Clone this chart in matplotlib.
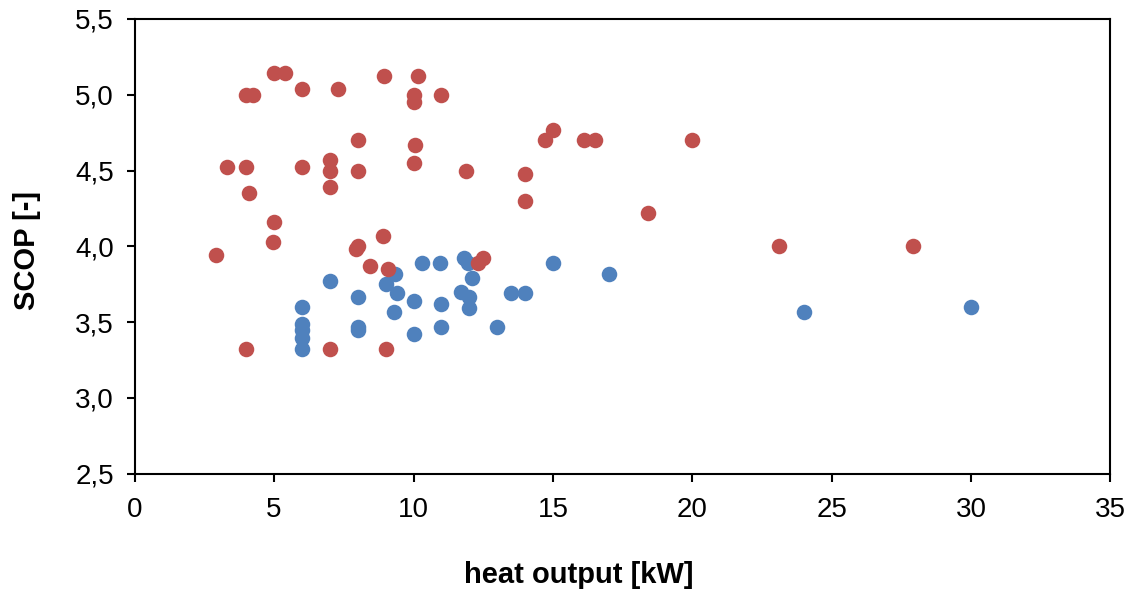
import matplotlib
matplotlib.use('Agg')
import matplotlib.pyplot as plt
from matplotlib.ticker import FuncFormatter, MultipleLocator

plt.rcParams['font.family'] = ['Liberation Sans', 'DejaVu Sans']

# red series (upper group)
red_x = [2.9, 3.3, 4.0, 4.25, 4.0, 4.1, 4.0, 5.0, 5.4, 5.0, 4.95, 6.0, 6.0,
         7.3, 7.0, 7.0, 7.0, 7.0, 8.0, 8.0, 8.0, 7.95, 8.45, 8.9, 8.95, 9.1,
         9.0, 10.0, 10.0, 10.15, 10.05, 10.0, 11.0, 11.9, 12.3, 12.5, 14.0,
         14.0, 14.7, 15.0, 16.1, 16.5, 20.0, 18.4, 23.1, 27.9]
red_y = [3.94, 4.52, 5.0, 5.0, 4.52, 4.35, 3.32, 5.14, 5.14, 4.16, 4.03, 5.04,
         4.52, 5.04, 4.57, 4.5, 4.39, 3.32, 4.7, 4.5, 4.0, 3.98, 3.87, 4.07,
         5.12, 3.85, 3.32, 5.0, 4.95, 5.12, 4.67, 4.55, 5.0, 4.5, 3.89, 3.92,
         4.48, 4.3, 4.7, 4.77, 4.7, 4.7, 4.7, 4.22, 4.0, 4.0]

# blue series (lower group)
blue_x = [6, 6, 6, 6, 6, 7, 8, 8, 8, 9, 9.35, 9.4, 9.3, 10, 10, 10.3, 10.95,
          11, 11, 11.8, 11.95, 11.7, 12, 12, 12.1, 13, 13.5, 14, 15, 17, 24, 30]
blue_y = [3.6, 3.49, 3.45, 3.395, 3.32, 3.77, 3.665, 3.47, 3.445, 3.75, 3.82,
          3.69, 3.57, 3.64, 3.42, 3.89, 3.89, 3.62, 3.47, 3.92, 3.89, 3.7,
          3.665, 3.595, 3.79, 3.47, 3.69, 3.69, 3.89, 3.82, 3.57, 3.6]

fig = plt.figure(figsize=(11.32, 5.9), dpi=100)
ax = fig.add_axes([0.119, 0.197, 0.862, 0.771])

ax.scatter(blue_x, blue_y, s=125, color='#4F81BD', lw=0, zorder=3)
ax.scatter(red_x, red_y, s=125, color='#C0504D', lw=0, zorder=4)

ax.set_xlim(0, 35)
ax.set_ylim(2.5, 5.5)
ax.xaxis.set_major_locator(MultipleLocator(5))
ax.yaxis.set_major_locator(MultipleLocator(0.5))
ax.yaxis.set_major_formatter(FuncFormatter(lambda v, p: f'{v:.1f}'.replace('.', ',')))

for sp in ax.spines.values():
    sp.set_linewidth(1.5)
ax.tick_params(direction='out', length=6, width=1.5, labelsize=20,
               top=False, right=False)
ax.tick_params(axis='y', pad=9)
ax.tick_params(axis='x', pad=11)

ax.set_xlabel('heat output [kW]', fontsize=21, fontweight='bold')
ax.set_ylabel('SCOP [-]', fontsize=21, fontweight='bold')
ax.xaxis.set_label_coords(0.455, -0.192)
ax.yaxis.set_label_coords(-0.096, 0.49)

fig.savefig('out.png', dpi=100)
plt.close(fig)
